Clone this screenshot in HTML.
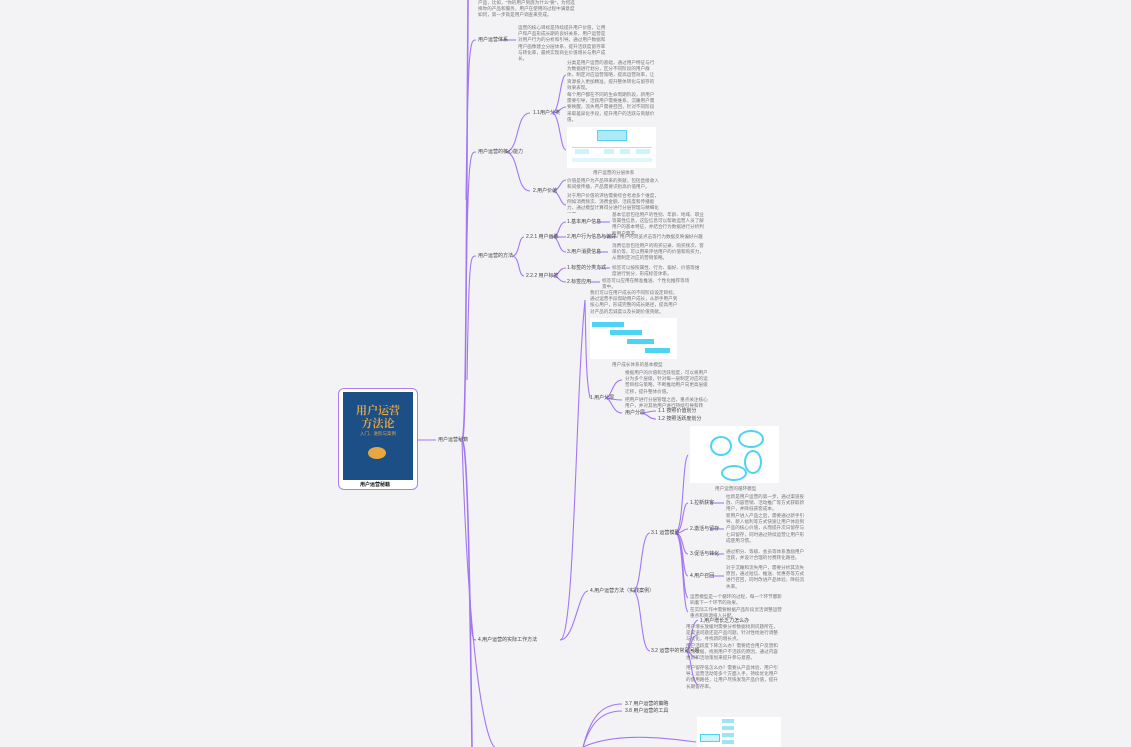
<!DOCTYPE html>
<html><head><meta charset="utf-8"><style>
html,body{margin:0;padding:0;width:1131px;height:747px;background:#f3f3f6;overflow:hidden;position:relative;font-family:"Liberation Sans","Noto Sans CJK SC",sans-serif}
.t{position:absolute;font-size:4.6px;line-height:6.2px;color:#777;overflow:hidden;word-break:break-all;letter-spacing:0}
.l{position:absolute;font-size:5px;line-height:6px;color:#444;white-space:nowrap}
.img{position:absolute;background:#fff}
svg{position:absolute;left:0;top:0}
</style></head><body>
<svg width="1131" height="747" fill="none" stroke="#a377f2" stroke-width="1.1">
<path d="M418 440 H436"/>
<path d="M462 440 C466 440 466 300 468 0" stroke-width="1.6"/>
<path d="M462 440 C468 440 470 600 472 747" stroke-width="1.6"/>
<path d="M466 200 C468 40 470 40 476 40"/>
<path d="M466 300 C468 152 470 152 476 152"/>
<path d="M467 380 C469 256 470 256 476 256"/>
<path d="M469 560 C471 640 472 640 476 640"/>
<path d="M462 440 C470 700 490 747 495 747"/>
<path d="M500 40 H516"/>
<path d="M505 152 C520 152 515 113 530 113"/>
<path d="M505 152 C520 152 515 191 530 191"/>
<path d="M552 113 C560 113 560 75 566 75"/>
<path d="M552 113 C560 113 560 107 566 107"/>
<path d="M552 113 C560 113 560 150 566 150"/>
<path d="M552 191 C560 191 560 180 566 180"/>
<path d="M552 191 C560 191 560 205 566 205"/>
<path d="M512 256 C520 256 518 237 524 237"/>
<path d="M512 256 C520 256 518 276 524 276"/>
<path d="M552 237 C560 237 558 222 566 222"/>
<path d="M552 237 H566"/>
<path d="M552 237 C560 237 558 252 566 252"/>
<path d="M552 276 C560 276 558 268 566 268"/>
<path d="M552 276 C560 276 558 282 566 282"/>
<path d="M597 222 H610"/><path d="M600 237 H618"/><path d="M597 252 H608"/><path d="M598 268 H610"/><path d="M590 282 H600"/>
<path d="M560 640 C575 640 575 400 585 300"/>
<path d="M560 640 C575 640 578 591 588 591"/>
<path d="M585 300 C586 350 586 380 590 398"/>
<path d="M605 398 C612 398 612 380 622 380"/>
<path d="M605 398 C612 398 612 400 622 400"/>
<path d="M605 398 C612 398 612 413 622 413"/>
<path d="M640 413 C648 413 648 411 656 411"/>
<path d="M640 413 C648 413 648 419 656 419"/>
<path d="M633 591 C642 591 640 533 650 533"/>
<path d="M633 591 C642 591 640 651 650 651"/>
<path d="M675 533 C684 533 682 460 688 455"/>
<path d="M675 533 C684 533 682 503 688 503"/>
<path d="M675 533 C684 533 682 529 688 529"/>
<path d="M675 533 C684 533 682 554 688 554"/>
<path d="M675 533 C684 533 682 576 688 576"/>
<path d="M675 533 C684 533 682 595 688 598"/>
<path d="M675 533 C684 533 682 608 688 612"/>
<path d="M710 503 H724"/><path d="M710 529 H724"/><path d="M710 554 H724"/><path d="M710 576 H724"/>
<path d="M685 651 C692 651 690 622 698 620"/>
<path d="M685 651 C692 651 690 635 698 635"/>
<path d="M685 651 C692 651 690 658 698 658"/>
<path d="M685 651 C692 651 690 680 698 685"/>
<path d="M583 747 C590 720 600 704 622 704"/>
<path d="M583 747 C590 725 600 711 622 711"/>
<path d="M583 747 C620 730 680 740 696 742"/>
</svg>

<div style="position:absolute;left:338px;top:388px;width:78px;height:100px;border:1.5px solid #b07cf7;border-radius:6px;background:#fff"></div>
<div style="position:absolute;left:343px;top:392px;width:70px;height:88px;background:#1b4f86"></div>
<div style="position:absolute;left:343px;top:404px;width:70px;text-align:center;color:#e8a640;font-family:'Noto Serif CJK SC',serif;font-weight:bold;font-size:11px;line-height:13px">用户运营<br>方法论</div>
<div style="position:absolute;left:343px;top:431px;width:70px;text-align:center;color:#e8a640;font-size:4.5px">入门、进阶与案例</div>
<div style="position:absolute;left:368px;top:447px;width:18px;height:12px;border-radius:50%;background:#e8a640"></div>
<div class="l" style="left:360px;top:482px;font-weight:bold;color:#111">用户运营秘籍</div>
<div class="l" style="left:438px;top:437px">用户运营秘籍</div>

<div class="t" style="left:478px;top:0;width:98px;height:20px">产品，比如，"你的用户到底为什么"要"，为何选择你的产品和服务，用户在使用的过程中满意度如何，第一步就是用户调查来完成。</div>
<div class="l" style="left:478px;top:37px">用户运营体系</div>
<div class="t" style="left:518px;top:25px;width:88px;height:38px">运营的核心目标是持续提升用户价值，让用户和产品形成长期的良好关系，用户运营是对用户行为的分析和引导。通过用户数据和用户画像建立分层体系，提升活跃度留存率与转化率，最终实现商业价值增长与用户成长。</div>
<div class="l" style="left:478px;top:149px">用户运营的核心能力</div>
<div class="l" style="left:533px;top:110px">1.1用户分类</div>
<div class="t" style="left:567px;top:60px;width:90px;height:31px">分类是用户运营的基础，通过用户特征与行为数据进行划分，区分不同阶段的用户群体，制定对应运营策略，提高运营效率，让资源投入更加精准，提升整体转化与留存的效果表现。</div>
<div class="t" style="left:567px;top:92px;width:90px;height:31px">每个用户都在不同的生命周期阶段，新用户需要引导，活跃用户需要维系，沉睡用户需要唤醒，流失用户需要召回，针对不同阶段采取差异化手段，提升用户的活跃与贡献价值。</div>
<div class="img" style="left:567px;top:127px;width:89px;height:41px"></div>
<div style="position:absolute;left:597px;top:130px;width:28px;height:9px;border:1px solid #5fd0ee;background:#aee9f7"></div>
<div style="position:absolute;left:572px;top:147px;width:80px;height:4px;border-top:1px solid #9ee"></div>
<div style="position:absolute;left:575px;top:149px;width:14px;height:5px;background:#cdf3fb"></div>
<div style="position:absolute;left:604px;top:149px;width:10px;height:5px;background:#cdf3fb"></div>
<div style="position:absolute;left:620px;top:149px;width:10px;height:5px;background:#cdf3fb"></div>
<div style="position:absolute;left:636px;top:149px;width:14px;height:5px;background:#cdf3fb"></div>
<div style="position:absolute;left:572px;top:158px;width:80px;height:4px;background:#dff7fc"></div>
<div class="t" style="left:593px;top:170px;width:60px;height:6px">用户运营的分层体系</div>
<div class="l" style="left:533px;top:188px">2.用户价值</div>
<div class="t" style="left:567px;top:178px;width:94px;height:13px">价值是用户为产品带来的贡献，包括直接收入和间接传播，产品需要识别高价值用户。</div>
<div class="t" style="left:567px;top:193px;width:94px;height:20px">对于用户价值的评估需要综合考虑多个维度，例如消费频次、消费金额、活跃度和传播能力，通过模型计算得分进行分层管理与精细化运营。</div>

<div class="l" style="left:478px;top:253px">用户运营的方法</div>
<div class="l" style="left:526px;top:234px">2.2.1 用户画像</div>
<div class="l" style="left:526px;top:273px">2.2.2 用户标签</div>
<div class="l" style="left:567px;top:219px">1.基本用户信息</div>
<div class="l" style="left:567px;top:234px">2.用户行为信息与偏好</div>
<div class="l" style="left:567px;top:249px">3.用户消费信息</div>
<div class="l" style="left:567px;top:265px">1.标签的分类方式</div>
<div class="l" style="left:567px;top:279px">2.标签应用</div>
<div class="t" style="left:612px;top:212px;width:92px;height:25px">基本信息包括用户的性别、年龄、地域、职业等属性信息，这些信息可以帮助运营人员了解用户的基本特征，并结合行为数据进行分析判断用户需求。</div>
<div class="t" style="left:620px;top:234px;width:90px;height:6px">用户的浏览点击等行为数据反映偏好兴趣</div>
<div class="t" style="left:612px;top:243px;width:92px;height:19px">消费信息包括用户的购买记录、购买频次、客单价等，可以用来评估用户的价值和购买力，从而制定对应的营销策略。</div>
<div class="t" style="left:612px;top:265px;width:90px;height:13px">标签可以按照属性、行为、偏好、价值等维度进行划分，形成标签体系。</div>
<div class="t" style="left:602px;top:278px;width:90px;height:12px">标签可以应用在精准推送、个性化推荐等场景中。</div>

<div class="l" style="left:478px;top:637px">4.用户运营的实际工作方法</div>
<div class="t" style="left:590px;top:290px;width:90px;height:26px">我们可以在用户成长的不同阶段设定目标，通过运营手段帮助用户成长，从新手用户到核心用户，形成完整的成长路径，提高用户对产品的忠诚度以及长期价值贡献。</div>
<div class="img" style="left:590px;top:318px;width:87px;height:41px"></div>
<div style="position:absolute;left:592px;top:322px;width:32px;height:5px;background:#4fd3f5"></div>
<div style="position:absolute;left:610px;top:330px;width:32px;height:5px;background:#4fd3f5"></div>
<div style="position:absolute;left:627px;top:339px;width:27px;height:5px;background:#4fd3f5"></div>
<div style="position:absolute;left:645px;top:348px;width:25px;height:5px;background:#4fd3f5"></div>
<div class="t" style="left:612px;top:362px;width:60px;height:6px">用户成长体系的基本模型</div>
<div class="l" style="left:590px;top:395px">1.用户分层</div>
<div class="t" style="left:625px;top:370px;width:84px;height:25px">根据用户的价值和活跃程度，可以将用户分为多个层级，针对每一层制定对应的运营目标与策略，不断推动用户向更高层级迁移，提升整体价值。</div>
<div class="t" style="left:625px;top:397px;width:84px;height:12px">把用户进行分层管理之后，重点关注核心用户，并对其他用户进行持续引导和转化。</div>
<div class="l" style="left:625px;top:410px">用户分层</div>
<div class="l" style="left:658px;top:408px">1.1 按照价值划分</div>
<div class="l" style="left:658px;top:416px">1.2 按照活跃度划分</div>

<div class="l" style="left:590px;top:588px">4.用户运营方法（实践案例）</div>
<div class="l" style="left:651px;top:530px">3.1 运营模型</div>
<div class="l" style="left:651px;top:648px">3.2 运营中的常见问题</div>
<div class="img" style="left:690px;top:426px;width:89px;height:57px"></div>
<div style="position:absolute;left:710px;top:436px;width:18px;height:16px;border:2px solid #4fd3f5;border-radius:50%"></div>
<div style="position:absolute;left:738px;top:430px;width:22px;height:14px;border:2px solid #4fd3f5;border-radius:50%"></div>
<div style="position:absolute;left:744px;top:450px;width:14px;height:20px;border:2px solid #4fd3f5;border-radius:50%"></div>
<div style="position:absolute;left:721px;top:465px;width:22px;height:12px;border:2px solid #4fd3f5;border-radius:50%"></div>
<div class="t" style="left:715px;top:486px;width:60px;height:6px">用户运营的循环模型</div>
<div class="l" style="left:690px;top:500px">1.拉新获客</div>
<div class="l" style="left:690px;top:526px">2.激活与留存</div>
<div class="l" style="left:690px;top:551px">3.促活与转化</div>
<div class="l" style="left:690px;top:573px">4.用户召回</div>
<div class="t" style="left:726px;top:494px;width:82px;height:18px">拉新是用户运营的第一步，通过渠道投放、内容营销、活动推广等方式获取新用户，并降低获客成本。</div>
<div class="t" style="left:726px;top:513px;width:82px;height:31px">新用户进入产品之后，需要通过新手引导、新人福利等方式快速让用户体验到产品的核心价值，从而提升次日留存与七日留存，同时通过持续运营让用户形成使用习惯。</div>
<div class="t" style="left:726px;top:549px;width:82px;height:13px">通过积分、等级、会员等体系激励用户活跃，并设计合理的付费转化路径。</div>
<div class="t" style="left:726px;top:565px;width:82px;height:25px">对于沉睡和流失用户，需要分析其流失原因，通过短信、推送、优惠券等方式进行召回，同时改进产品体验，降低流失率。</div>
<div class="t" style="left:690px;top:594px;width:92px;height:12px">运营模型是一个循环的过程，每一个环节都影响着下一个环节的效果。</div>
<div class="t" style="left:690px;top:607px;width:92px;height:12px">在实际工作中需要根据产品阶段灵活调整运营重点和资源投入分配。</div>
<div class="l" style="left:700px;top:618px">1.用户增长乏力怎么办</div>
<div class="t" style="left:686px;top:624px;width:92px;height:19px">用户增长放缓时需要分析数据找到问题所在，是渠道问题还是产品问题，针对性地进行调整与优化，寻找新的增长点。</div>
<div class="t" style="left:686px;top:643px;width:94px;height:19px">用户活跃度下降怎么办？需要结合用户反馈和行为数据，找到用户不活跃的原因，通过内容更新和活动策划来提升参与意愿。</div>
<div class="t" style="left:686px;top:665px;width:94px;height:25px">用户留存低怎么办？需要从产品体验、用户引导、运营活动等多个方面入手，持续优化用户的使用路径，让用户尽快发现产品价值，提升长期留存率。</div>
<div class="l" style="left:625px;top:701px">3.7 用户运营的策略</div>
<div class="l" style="left:625px;top:708px">3.8 用户运营的工具</div>
<div class="img" style="left:697px;top:717px;width:84px;height:30px"></div>
<div style="position:absolute;left:700px;top:734px;width:18px;height:6px;border:1px solid #4fd3f5;background:#cdf3fb"></div>
<div style="position:absolute;left:722px;top:719px;width:12px;height:4px;background:#9fe4f4"></div>
<div style="position:absolute;left:722px;top:726px;width:12px;height:4px;background:#9fe4f4"></div>
<div style="position:absolute;left:722px;top:733px;width:12px;height:4px;background:#9fe4f4"></div>
<div style="position:absolute;left:722px;top:740px;width:12px;height:4px;background:#9fe4f4"></div>
</body></html>
